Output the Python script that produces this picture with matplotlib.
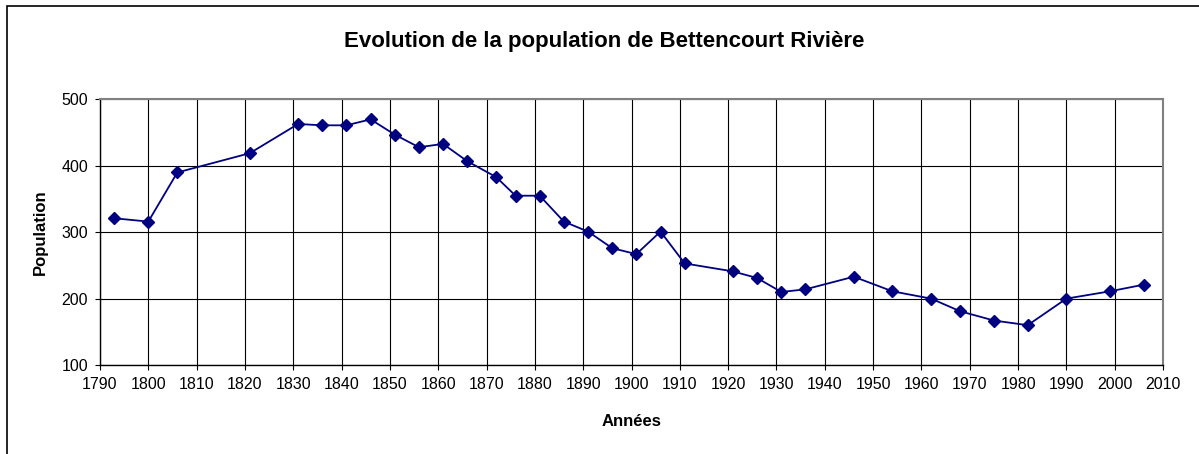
import matplotlib.pyplot as plt
from matplotlib.patches import Rectangle

plt.rcParams['font.family'] = ['Liberation Sans', 'DejaVu Sans']

years = [1793, 1800, 1806, 1821, 1831, 1836, 1841, 1846, 1851, 1856, 1861,
         1866, 1872, 1876, 1881, 1886, 1891, 1896, 1901, 1906, 1911, 1921,
         1926, 1931, 1936, 1946, 1954, 1962, 1968, 1975, 1982, 1990, 1999, 2006]
population = [321, 316, 390, 419, 463, 461, 461, 470, 447, 428, 433,
              407, 383, 355, 355, 316, 301, 276, 267, 301, 253, 241,
              231, 210, 214, 233, 211, 200, 181, 167, 160, 200, 211, 221]

fig = plt.figure(figsize=(11.99, 4.54), dpi=100)
ax = fig.add_axes([0.0834, 0.196, 0.8866, 0.585])

# border of the chart area (cut off on the right and at the bottom)
fig.patches.append(Rectangle((7 / 1199, -0.1), 1.2, 1 - 6 / 454 + 0.1,
                             transform=fig.transFigure, fill=False,
                             edgecolor='black', linewidth=1.2))

ax.plot(years, population, color='#000080', linewidth=1.3,
        marker='D', markersize=6, zorder=3)

ax.set_xlim(1790, 2010)
ax.set_ylim(100, 500)
ax.set_xticks(range(1790, 2011, 10))
ax.set_yticks(range(100, 501, 100))
ax.grid(True, color='black', linewidth=0.8)
ax.tick_params(direction='out', length=3.6, width=0.8, labelsize=11.5)
ax.tick_params(axis='x', pad=5)
ax.tick_params(axis='y', pad=5)

for s in ['top', 'right']:
    ax.spines[s].set_color('#808080')
    ax.spines[s].set_linewidth(1.5)
for s in ['left', 'bottom']:
    ax.spines[s].set_color('black')
    ax.spines[s].set_linewidth(1.0)

fig.text(0.504, 1 - 41 / 454, "Evolution de la population de Bettencourt Rivière",
         fontsize=16, fontweight='bold', ha='center', va='center')
ax.set_xlabel("Années", fontsize=12, fontweight='bold', labelpad=16)
ax.set_ylabel("Population", fontsize=12, fontweight='bold', labelpad=10)

fig.savefig("out.png", dpi=100)
